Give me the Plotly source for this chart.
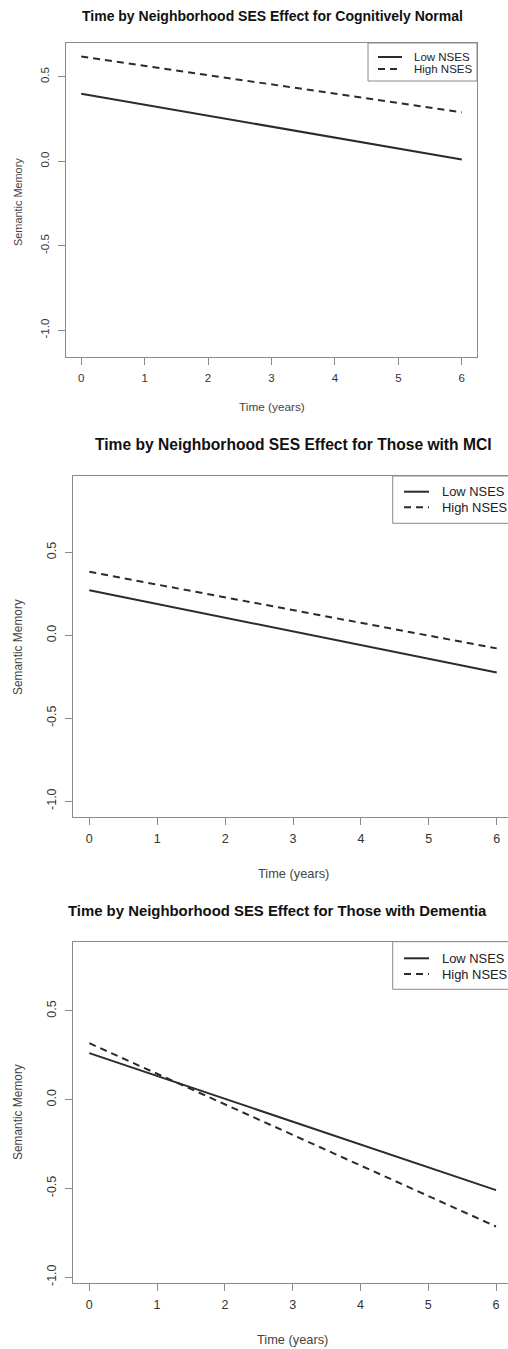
import plotly.graph_objects as go

W, H = 508, 1349

# ---- data ----
time = [0, 6]
series_names = ["Low NSES", "High NSES"]
titles = [
    "Time by Neighborhood SES Effect for Cognitively Normal",
    "Time by Neighborhood SES Effect for Those with MCI",
    "Time by Neighborhood SES Effect for Those with Dementia",
]
cn_low = [0.40, 0.01]
cn_high = [0.62, 0.29]
mci_low = [0.272, -0.225]
mci_high = [0.383, -0.079]
dem_low = [0.262, -0.51]
dem_high = [0.318, -0.715]
x_ticks = [0, 1, 2, 3, 4, 5, 6]
y_ticks = [-1.0, -0.5, 0.0, 0.5]
y_ticklabels = ["-1.0", "-0.5", "0.0", "0.5"]
x_title = "Time (years)"
y_title = "Semantic Memory"

# ---- layout geometry (pixels) ----
panels = [
    dict(low=cn_low, high=cn_high, left=66, right=477, top=43, bottom=357,
         xr=[-0.24, 6.24], yr=[-1.158, 0.70], fs=11.5, tfs=14.0,
         title_xy=(272, 16), title_anchor="center", xlab_y=407, ylab_xy=(18, 202),
         leg=dict(x0=368, x1=477, y0=43, y1=81, r1=57, r2=69, lx0=378, lx1=402, tx=412),
         lfs=11.5, mirror_right=True),
    dict(low=mci_low, high=mci_high, left=72.7, right=508, top=476, bottom=817.3,
         xr=[-0.245, 6.166], yr=[-1.098, 0.961], fs=12.5, tfs=15.6,
         title_xy=(293, 444), title_anchor="center", xlab_y=873, ylab_xy=(18, 647),
         leg=dict(x0=392.7, x1=540, y0=476, y1=523.3, r1=491.7, r2=507.3, lx0=404, lx1=429, tx=440),
         lfs=12.9, mirror_right=False),
    dict(low=dem_low, high=dem_high, left=73.3, right=508, top=941.7, bottom=1283.3,
         xr=[-0.236, 6.177], yr=[-1.035, 0.89], fs=12.5, tfs=14.9,
         title_xy=(66, 911), title_anchor="left", xlab_y=1339, ylab_xy=(18, 1112),
         leg=dict(x0=392.7, x1=540, y0=941.7, y1=989.3, r1=958.3, r2=974, lx0=404, lx1=429, tx=440),
         lfs=12.9, mirror_right=False),
]

FONT = "Liberation Sans, Arial, Helvetica, sans-serif"
LINE = "#2b2b2b"
AXC = "#8a8a8a"
DASH = "7px,5px"

fig = go.Figure()
layout = dict(width=W, height=H, margin=dict(l=0, r=0, t=0, b=0, autoexpand=False),
              paper_bgcolor="white", plot_bgcolor="white", font=dict(family=FONT),
              showlegend=False, annotations=[], shapes=[])


def px(v):
    return v / W


def py(v):
    return 1 - v / H


for i, p in enumerate(panels):
    n = "" if i == 0 else str(i + 1)
    xa, ya = "x" + n, "y" + n
    fig.add_trace(go.Scatter(x=time, y=p["low"], mode="lines", name=series_names[0],
                             line=dict(color=LINE, width=2), xaxis=xa, yaxis=ya,
                             hoverinfo="skip"))
    fig.add_trace(go.Scatter(x=time, y=p["high"], mode="lines", name=series_names[1],
                             line=dict(color=LINE, width=2, dash=DASH), xaxis=xa, yaxis=ya,
                             hoverinfo="skip"))
    xd = [px(p["left"]), min(px(p["right"]), 1.0)]
    yd = [py(p["bottom"]), py(p["top"])]
    layout["xaxis" + n] = dict(domain=xd, range=p["xr"], anchor=ya, tickvals=x_ticks,
                               showline=True, linecolor=AXC, linewidth=1, mirror=True,
                               ticks="outside", ticklen=7, tickcolor=AXC, tickwidth=1,
                               showgrid=False, zeroline=False,
                               tickfont=dict(size=p["fs"], color="#333"),
                               ticklabelstandoff=3, fixedrange=True)
    layout["yaxis" + n] = dict(domain=yd, range=p["yr"], anchor=xa, tickvals=y_ticks,
                               ticktext=y_ticklabels, tickangle=-90,
                               showline=True, linecolor=AXC, linewidth=1,
                               mirror=p["mirror_right"],
                               ticks="outside", ticklen=7, tickcolor=AXC, tickwidth=1,
                               showgrid=False, zeroline=False,
                               tickfont=dict(size=p["fs"], color="#333"),
                               ticklabelstandoff=4, fixedrange=True)

    # legend box (drawn manually so it can run past the page edge like the original)
    lg = p["leg"]
    layout["shapes"].append(dict(type="rect", xref="paper", yref="paper",
                                 x0=px(lg["x0"]), x1=px(lg["x1"]), y0=py(lg["y1"]), y1=py(lg["y0"]),
                                 line=dict(color=AXC, width=1), fillcolor="white", layer="above"))
    for r, name, dash in ((lg["r1"], series_names[0], "solid"), (lg["r2"], series_names[1], DASH)):
        layout["shapes"].append(dict(type="line", xref="paper", yref="paper",
                                     x0=px(lg["lx0"]), x1=px(lg["lx1"]), y0=py(r), y1=py(r),
                                     line=dict(color=LINE, width=2, dash=dash), layer="above"))
        layout["annotations"].append(dict(
            text=name, x=px(lg["tx"]), y=py(r), xref="paper", yref="paper",
            xanchor="left", yanchor="middle", showarrow=False,
            font=dict(size=p["lfs"], color="#222", family=FONT)))

    tx, ty = p["title_xy"]
    layout["annotations"].append(dict(
        text="<b>" + titles[i] + "</b>", x=px(tx), y=py(ty), xref="paper", yref="paper",
        xanchor=p["title_anchor"], yanchor="middle", showarrow=False,
        font=dict(size=p["tfs"], color="#111", family=FONT)))
    x0px = p["left"] + (0 - p["xr"][0]) / (p["xr"][1] - p["xr"][0]) * (p["right"] - p["left"])
    x6px = p["left"] + (6 - p["xr"][0]) / (p["xr"][1] - p["xr"][0]) * (p["right"] - p["left"])
    layout["annotations"].append(dict(
        text=x_title, x=px((x0px + x6px) / 2), y=py(p["xlab_y"]), xref="paper", yref="paper",
        xanchor="center", yanchor="middle", showarrow=False,
        font=dict(size=p["fs"] + 0.3, color="#444", family=FONT)))
    lx, ly = p["ylab_xy"]
    layout["annotations"].append(dict(
        text=y_title, x=px(lx), y=py(ly), xref="paper", yref="paper", textangle=-90,
        xanchor="center", yanchor="middle", showarrow=False,
        font=dict(size=p["fs"] - 0.6, color="#444", family=FONT)))

fig.update_layout(**layout)
fig.write_html("out.html")
